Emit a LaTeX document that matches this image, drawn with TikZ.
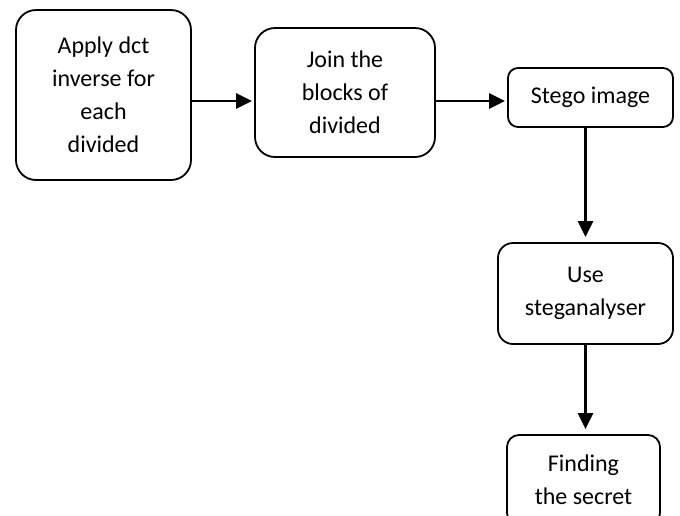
\documentclass[tikz,border=0pt]{standalone}
\usepackage{fontspec}
\setmainfont{Carlito}
\usetikzlibrary{arrows.meta,calc,positioning}

\tikzset{
  stepbox/.style={rectangle, draw=black, line width=1.8pt, align=center, inner sep=0pt,
    font=\fontsize{24}{33}\selectfont},
  arr/.style={line width=2.4pt, -{Triangle[length=16pt,width=15pt]}}
}

\begin{document}
\begin{tikzpicture}[x=1pt,y=1pt]
\useasboundingbox (0,0) rectangle (680,-515);

\node[stepbox, rounded corners=20pt, minimum width=175pt, minimum height=170pt] (dctinv) at (103.5,-95) {Apply dct\\inverse for\\each\\divided};
\node[stepbox, rounded corners=20pt, minimum width=180pt, minimum height=129pt] (join) at (345,-92.5) {Join the\\blocks of\\divided};
\node[stepbox, rounded corners=10pt, minimum width=165pt, minimum height=59pt] (stego) at (590.5,-97.5) {Stego image};
\node[stepbox, rounded corners=15pt, minimum width=175pt, minimum height=101pt] (analyser) at (585.5,-293.5) {Use\\steganalyser};
\node[stepbox, rounded corners=12pt, minimum width=153pt, minimum height=90pt] (secret) at (583.5,-480) {Finding\\the secret};

% connectors
\draw[arr] ($(dctinv.east)+(0,-6)$) -- ($(join.west)+(-2,-8.5)$);
\draw[arr] ($(join.east)+(0,-8.5)$) -- ($(stego.west)+(-2,-3.5)$);
\draw[arr] (stego.south -| analyser.north) -- ($(analyser.north)+(0,5)$);
\draw[arr] (analyser.south) -- ($(analyser.south |- secret.north)+(0,5)$);

\end{tikzpicture}
\end{document}
